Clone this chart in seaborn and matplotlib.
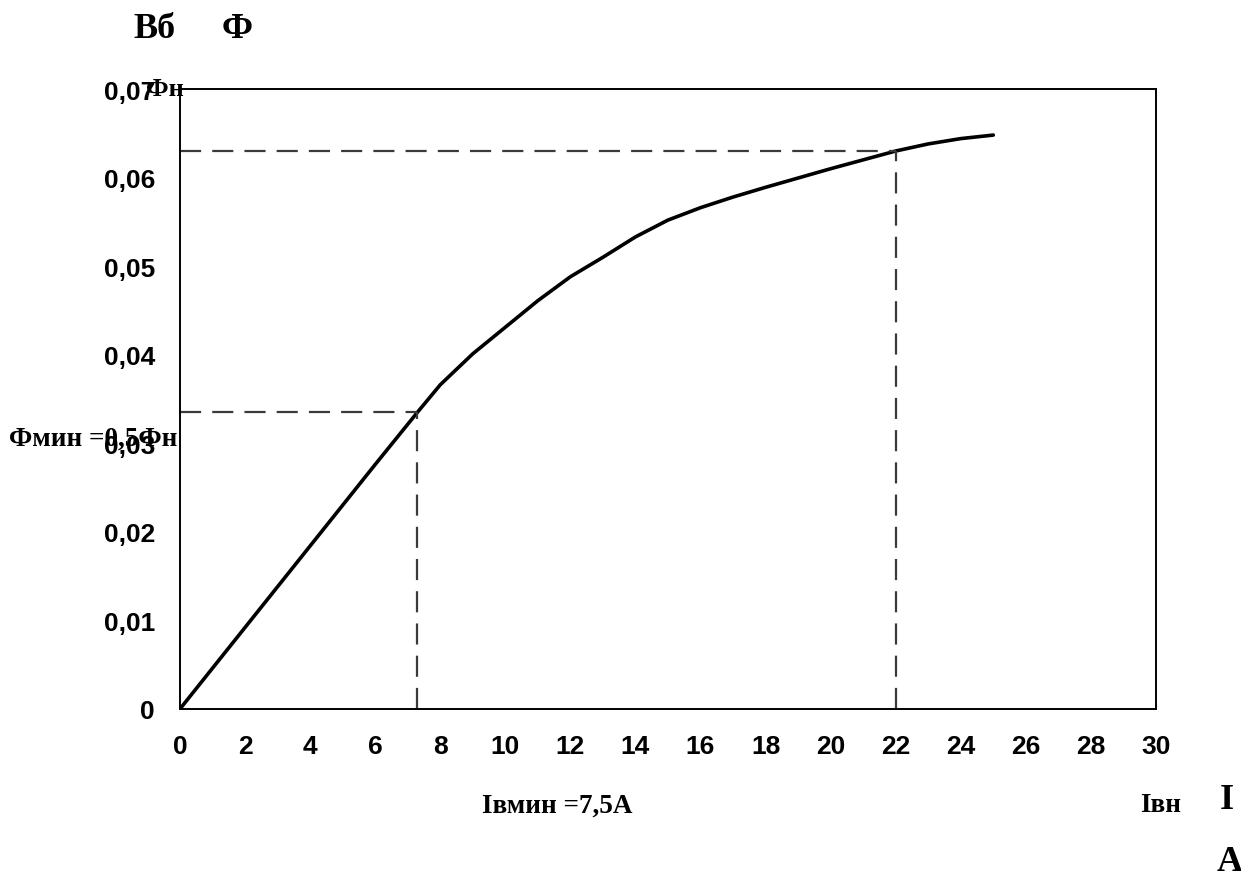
import matplotlib
matplotlib.use("Agg")
import matplotlib.pyplot as plt
from matplotlib.ticker import FuncFormatter, MultipleLocator
import numpy as np
import pandas as pd
import seaborn as sns

# Magnetisation curve: excitation current (A) vs. magnetic flux (Wb)
current_a = [0, 2, 4, 6, 7.3, 8, 9, 10, 11, 12, 13, 14, 15, 16, 17, 18, 20, 22, 23, 24, 25]
flux_wb = [0, 0.0092, 0.0184, 0.0276, 0.0335, 0.0366, 0.0401, 0.0431, 0.0461,
           0.0488, 0.0510, 0.0533, 0.0552, 0.0566, 0.0578, 0.0589, 0.0610,
           0.0630, 0.0638, 0.0644, 0.0648]

# Reference operating points: minimum (0.5 Фн) and nominal
ref_current = [7.3, 22.0]
ref_flux = [0.0335, 0.0630]

df = pd.DataFrame({"I": current_a, "F": flux_wb})

sns.set_theme(style="white")
plt.rcParams["font.family"] = ["Liberation Sans", "DejaVu Sans"]
plt.rcParams["text.color"] = "black"

fig = plt.figure(figsize=(12.41, 8.79), dpi=100)
ax = fig.add_axes([0.145, 0.1923, 0.7865, 0.7053])

sns.lineplot(data=df, x="I", y="F", ax=ax, color="black", linewidth=2.6,
             solid_capstyle="round", solid_joinstyle="round",
             estimator=None, sort=False)

dash_kw = dict(color="#3a3a3a", linewidth=1.6, linestyle=(0, (9.5, 5)))
for xi, yi in zip(ref_current, ref_flux):
    ax.plot([0, xi], [yi, yi], **dash_kw)
    ax.plot([xi, xi], [0, yi], **dash_kw)

ax.set_xlim(0, 30)
ax.set_ylim(0, 0.07)
ax.xaxis.set_major_locator(MultipleLocator(2))
ax.yaxis.set_major_locator(MultipleLocator(0.01))
ax.xaxis.set_major_formatter(FuncFormatter(lambda v, p: f"{v:.0f}"))
ax.yaxis.set_major_formatter(
    FuncFormatter(lambda v, p: "0" if abs(v) < 1e-9 else f"{v:.2f}".replace(".", ",")))
ax.set_xlabel("")
ax.set_ylabel("")

for s in ax.spines.values():
    s.set_color("black")
    s.set_linewidth(1.4)

ax.tick_params(axis="both", which="major", direction="out", length=5, width=1.4,
               color="black", labelcolor="black", labelsize=19, pad=13)
for lbl in ax.get_xticklabels() + ax.get_yticklabels():
    lbl.set_fontweight("bold")
    lbl.set_fontfamily("Liberation Sans")

serif = ["Liberation Serif", "DejaVu Serif"]
txt_kw = dict(family=serif, fontweight="bold", color="black", ha="left", va="center")
fig.text(133 / 1241, 1 - 30 / 879, "Вб", fontsize=26, **txt_kw)
fig.text(222 / 1241, 1 - 30 / 879, "Ф", fontsize=26, **txt_kw)
fig.text(146 / 1241, 1 - 89 / 879, "Фн", fontsize=19, **txt_kw)
fig.text(9 / 1241, 1 - 439 / 879, "Фмин =0,5Фн", fontsize=19.5, **txt_kw)
fig.text(482 / 1241, 1 - 806 / 879, "Iвмин =7,5А", fontsize=19.5, **txt_kw)
fig.text(1140 / 1241, 1 - 806 / 879, "Iвн", fontsize=19.5, **txt_kw)
fig.text(1220 / 1241, 1 - 801 / 879, "I", fontsize=26, **txt_kw)
fig.text(1217 / 1241, 1 - 863 / 879, "А", fontsize=26, **txt_kw)

fig.savefig("out.png", dpi=100, facecolor="white")
